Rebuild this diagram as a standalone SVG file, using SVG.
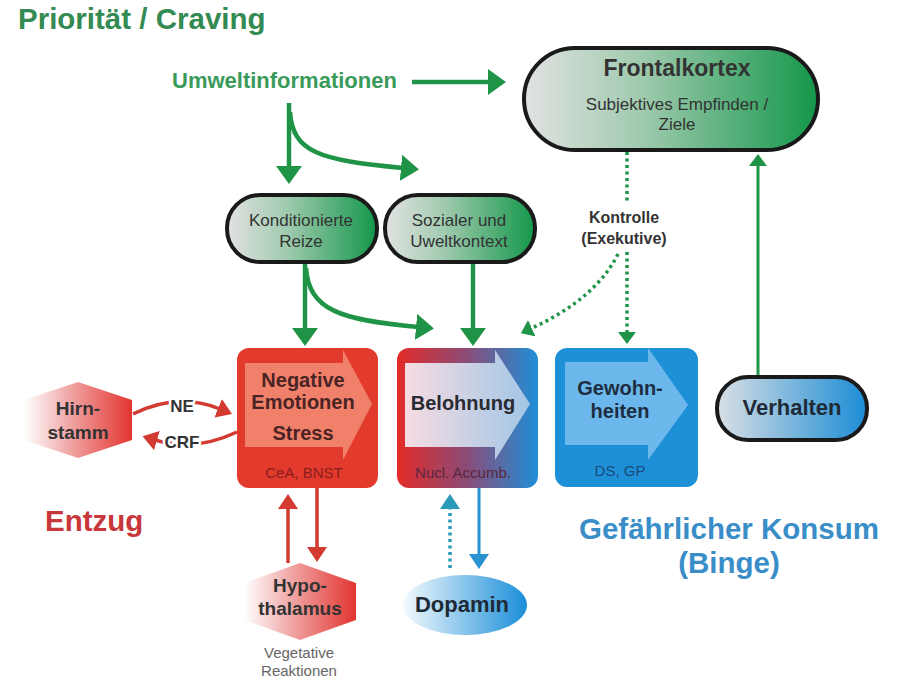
<svg xmlns="http://www.w3.org/2000/svg" width="897" height="680" viewBox="0 0 897 680">
<defs>
<style>
text{font-family:"Liberation Sans",Arial,sans-serif;}
.b{font-weight:bold;}
.pill{stroke:#1a1a1a;stroke-width:4;}
.gl{fill:none;stroke:#1f9447;stroke-width:4.5;}
.gd{fill:none;stroke:#1f9447;stroke-width:3.5;stroke-dasharray:3 3.5;}
.rl{fill:none;stroke:#d23a32;stroke-width:3.5;}
.bl{fill:none;stroke:#2a92d0;stroke-width:3;}
.bd{fill:none;stroke:#2a9ab8;stroke-width:3.5;stroke-dasharray:3 3.5;}
.nt{fill:#333333;text-anchor:middle;}
.halo{paint-order:stroke;stroke:#ffffff;stroke-width:5;stroke-linejoin:round;}
</style>
<linearGradient id="gGreen" x1="0" y1="0" x2="1" y2="0">
<stop offset="0" stop-color="#e2e2e2"/><stop offset="0.4" stop-color="#9fcaae"/><stop offset="1" stop-color="#13974a"/>
</linearGradient>
<linearGradient id="gVerh" x1="0" y1="0" x2="1" y2="0">
<stop offset="0" stop-color="#dadfe4"/><stop offset="1" stop-color="#1b8dd6"/>
</linearGradient>
<linearGradient id="gBel" x1="0" y1="0" x2="1" y2="0">
<stop offset="0" stop-color="#e42c28"/><stop offset="0.5" stop-color="#8a4c78"/><stop offset="1" stop-color="#1e8fd8"/>
</linearGradient>
<linearGradient id="gBelA" x1="0" y1="0" x2="1" y2="0">
<stop offset="0" stop-color="#f6dce2"/><stop offset="1" stop-color="#a2c6e6"/>
</linearGradient>
<linearGradient id="gHex" x1="0" y1="0" x2="1" y2="0">
<stop offset="0" stop-color="#ffffff"/><stop offset="0.45" stop-color="#f0a0a0"/><stop offset="1" stop-color="#e2352f"/>
</linearGradient>
<linearGradient id="gDop" x1="0" y1="0" x2="1" y2="0">
<stop offset="0" stop-color="#f4fafd"/><stop offset="1" stop-color="#1a8ed8"/>
</linearGradient>
<marker id="mG" markerUnits="userSpaceOnUse" viewBox="0 0 18 26" markerWidth="18" markerHeight="26" refX="2" refY="13" orient="auto">
<path d="M0,0 L18,13 L0,26 z" fill="#1f9447"/>
</marker>
<marker id="mGs" markerUnits="userSpaceOnUse" viewBox="0 0 12 18" markerWidth="12" markerHeight="18" refX="2" refY="9" orient="auto">
<path d="M0,0 L12,9 L0,18 z" fill="#1f9447"/>
</marker>
<marker id="mR" markerUnits="userSpaceOnUse" viewBox="0 0 15 20" markerWidth="15" markerHeight="20" refX="2" refY="10" orient="auto">
<path d="M0,0 L15,10 L0,20 z" fill="#d23a32"/>
</marker>
<marker id="mB" markerUnits="userSpaceOnUse" viewBox="0 0 15 20" markerWidth="15" markerHeight="20" refX="2" refY="10" orient="auto">
<path d="M0,0 L15,10 L0,20 z" fill="#2a92d0"/>
</marker>
<marker id="mBd" markerUnits="userSpaceOnUse" viewBox="0 0 15 20" markerWidth="15" markerHeight="20" refX="2" refY="10" orient="auto">
<path d="M0,0 L15,10 L0,20 z" fill="#2a9ab8"/>
</marker>
</defs>
<rect width="897" height="680" fill="#ffffff"/>

<g id="labels">
<text x="18" y="29" class="b" font-size="29.5" fill="#338a52">Priorität / Craving</text>
<text x="45" y="531" class="b" font-size="29.5" fill="#c8373a">Entzug</text>
<text x="729" y="539" class="b" font-size="29.5" fill="#3a8ec8" text-anchor="middle">Gefährlicher Konsum</text>
<text x="729" y="573" class="b" font-size="29.5" fill="#3a8ec8" text-anchor="middle">(Binge)</text>
</g>

<g id="connectors">
<path class="gl" d="M412,82 L490,82" marker-end="url(#mG)"/>
<path class="gl" d="M289,103 L289,168" marker-end="url(#mG)"/>
<path class="gl" d="M290,112 C293,152 318,160 403,168" marker-end="url(#mG)"/>
<path class="gl" d="M305,262 L305,330" marker-end="url(#mG)"/>
<path class="gl" d="M306,268 C309,310 340,320 418,327" marker-end="url(#mG)"/>
<path class="gl" d="M473,262 L473,330" marker-end="url(#mG)"/>
<path class="gd" d="M627,152 L627,203"/>
<path class="gd" d="M618,254 C600,290 565,313 530,329" marker-end="url(#mGs)"/>
<path class="gd" d="M627,252 L627,334" marker-end="url(#mGs)"/>
<path fill="none" stroke="#1f9447" stroke-width="3" d="M758,377 L758,164" marker-end="url(#mGs)"/>
<path class="rl" d="M133,414 Q178,392 220,409" marker-end="url(#mR)"/>
<path class="rl" d="M237,432 Q195,452 155,440" marker-end="url(#mR)"/>
<path class="rl" d="M288,563 L288,507" marker-end="url(#mR)"/>
<path class="rl" d="M317,488 L317,549" marker-end="url(#mR)"/>
<path class="bd" d="M450,568 L450,507" marker-end="url(#mBd)"/>
<path class="bl" d="M479,488 L479,556" marker-end="url(#mB)"/>
<text x="182" y="412" class="b halo" font-size="17" fill="#333333" text-anchor="middle">NE</text>
<text x="182" y="448" class="b halo" font-size="17" fill="#333333" text-anchor="middle">CRF</text>
<text x="624" y="223" class="b halo" font-size="16" fill="#333333" text-anchor="middle">Kontrolle</text>
<text x="624" y="244" class="b halo" font-size="16" fill="#333333" text-anchor="middle">(Exekutive)</text>
</g>

<g id="umwelt">
<text x="172" y="88" class="b" font-size="22" fill="#3a9a5a">Umweltinformationen</text>
</g>

<g id="frontalkortex">
<rect x="524" y="48" width="294" height="102" rx="51" class="pill" fill="url(#gGreen)"/>
<text x="677" y="76" class="b nt" font-size="23">Frontalkortex</text>
<text x="677" y="110" class="nt" font-size="17">Subjektives Empfinden /</text>
<text x="677" y="130" class="nt" font-size="17">Ziele</text>
</g>

<g id="konditionierte">
<rect x="227" y="195" width="150" height="67" rx="33" class="pill" fill="url(#gGreen)"/>
<text x="301" y="226" class="nt" font-size="17">Konditionierte</text>
<text x="301" y="247" class="nt" font-size="17">Reize</text>
</g>

<g id="sozialer">
<rect x="385" y="195" width="150" height="67" rx="33" class="pill" fill="url(#gGreen)"/>
<text x="459" y="226" class="nt" font-size="17">Sozialer und</text>
<text x="459" y="247" class="nt" font-size="17">Uweltkontext</text>
</g>

<g id="negative">
<rect x="237" y="348" width="141" height="140" rx="12" fill="#e23a2c"/>
<polygon points="245,363 343,363 343,350 372,404 343,460 343,447 245,447" fill="#f1806a"/>
<text x="303" y="387" class="b" font-size="20" fill="#4a2424" text-anchor="middle">Negative</text>
<text x="303" y="409" class="b" font-size="20" fill="#4a2424" text-anchor="middle">Emotionen</text>
<text x="303" y="440" class="b" font-size="20" fill="#4a2424" text-anchor="middle">Stress</text>
<text x="304" y="478" font-size="15" fill="#8a1e1e" text-anchor="middle">CeA, BNST</text>
</g>

<g id="belohnung">
<rect x="397" y="348" width="141" height="140" rx="12" fill="url(#gBel)"/>
<polygon points="405,363 495,363 495,350 530,404 495,460 495,447 405,447" fill="url(#gBelA)"/>
<text x="463" y="410" class="b" font-size="20" fill="#2a2a32" text-anchor="middle">Belohnung</text>
<text x="463" y="478" font-size="15" fill="#5a2640" text-anchor="middle">Nucl. Accumb.</text>
</g>

<g id="gewohnheiten">
<rect x="555" y="348" width="143" height="139" rx="12" fill="#1e90d8"/>
<polygon points="565,362 648,362 648,348 688,405 648,460 648,445 565,445" fill="#6cb8ec"/>
<text x="620" y="395" class="b" font-size="20" fill="#1e2e40" text-anchor="middle">Gewohn-</text>
<text x="620" y="418" class="b" font-size="20" fill="#1e2e40" text-anchor="middle">heiten</text>
<text x="620" y="476" font-size="15" fill="#1a4a7a" text-anchor="middle">DS, GP</text>
</g>

<g id="verhalten">
<rect x="717" y="377" width="150" height="63" rx="31" class="pill" fill="url(#gVerh)"/>
<text x="792" y="415" class="b" font-size="22" fill="#1e2a36" text-anchor="middle">Verhalten</text>
</g>

<g id="hirnstamm">
<polygon points="78,382 132,400 132,440 78,458 24,440 24,400" fill="url(#gHex)"/>
<text x="78" y="415" class="b nt" font-size="19">Hirn-</text>
<text x="78" y="439" class="b nt" font-size="19">stamm</text>
</g>

<g id="hypothalamus">
<polygon points="300,563 356,583 356,620 300,640 244,620 244,583" fill="url(#gHex)"/>
<text x="300" y="592" class="b nt" font-size="19">Hypo-</text>
<text x="300" y="615" class="b nt" font-size="19">thalamus</text>
<text x="299" y="658" font-size="15" fill="#666666" text-anchor="middle">Vegetative</text>
<text x="299" y="676" font-size="15" fill="#666666" text-anchor="middle">Reaktionen</text>
</g>

<g id="dopamin">
<ellipse cx="465" cy="605" rx="62" ry="30" fill="url(#gDop)"/>
<text x="462" y="612" class="b" font-size="22" fill="#1e2a36" text-anchor="middle">Dopamin</text>
</g>
</svg>
